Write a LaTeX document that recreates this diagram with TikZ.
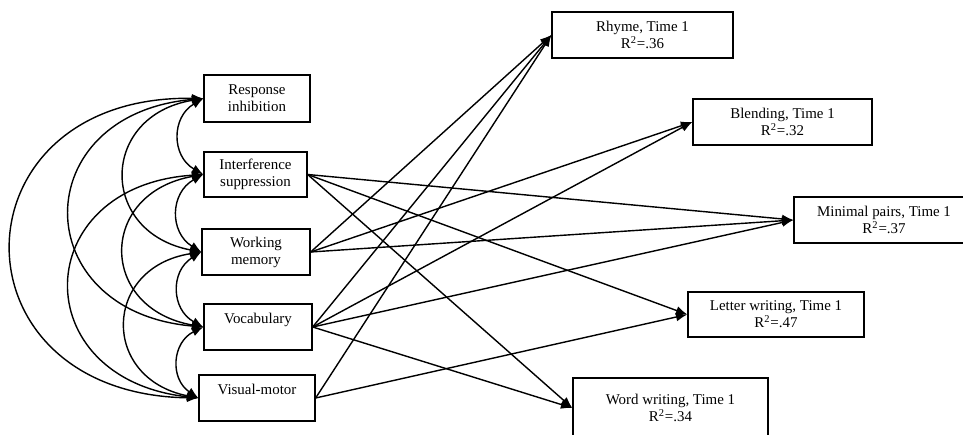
\documentclass[tikz,border=0pt]{standalone}
\usepackage{fontspec}
\setmainfont{Liberation Serif}
\usetikzlibrary{positioning, arrows.meta}

\begin{document}
\begin{tikzpicture}[x=0.02cm, y=-0.02cm]
    % Setup the style for the boxes
        \tikzset{box style/.style={draw,
                                   rectangle,
                                   line width=0.75pt,
                                   inner sep=0pt,
                                   align=center,
                                   minimum height=0.92cm,
                                   font=\fontsize{8.5}{9.7}\selectfont}}
        \useasboundingbox (0,0) rectangle (963,435);
        % Draw the predictors
        \node[box style, minimum width=2.12cm, minimum height=0.94cm] at (257, 98.5) (resp) {Response\\inhibition};
        \node[box style, minimum width=2.06cm, minimum height=0.9cm] at (255.5, 174.5) (interf) {Interference\\suppression};
        \node[box style, minimum width=2.16cm] at (256, 252) (wmem) {Working\\memory};
        \node[box style, minimum width=2.16cm] at (258, 327) (vocab) {Vocabulary\\\mbox{}};
        \node[box style, minimum width=2.32cm] at (257, 398) (vismot) {Visual-motor\\\mbox{}};
        % Draw the outcomes
        \node[box style, minimum width=3.62cm] at (642.5, 35) (rhyme) {Rhyme, Time 1\\R\textsuperscript{2}=.36};
        \node[box style, minimum width=3.58cm] at (782.5, 122) (blend) {Blending, Time 1\\R\textsuperscript{2}=.32};
        \node[box style, minimum width=3.6cm] at (884, 220) (minpair) {Minimal pairs, Time 1\\R\textsuperscript{2}=.37};
        \node[box style, minimum width=3.52cm, minimum height=0.9cm] at (776, 314.5) (letter) {Letter writing, Time 1\\R\textsuperscript{2}=.47};
        \node[box style, minimum width=3.9cm, minimum height=1.2cm] at (670.5, 408) (word) {Word writing, Time 1\\R\textsuperscript{2}=.34};
        % Connect the predictors with correlations
        \path[<->,
              >={Latex[length=6.5pt, width=5pt]},
              line width=0.8pt]
        (resp.west) edge[bend right=60, looseness=1.25] (interf.west)
        (interf.west) edge[bend right=60, looseness=1.25] (wmem.west)
        (wmem.west) edge[bend right=60, looseness=1.25] (vocab.west)
        (vocab.west) edge[bend right=60, looseness=1.25] (vismot.west)
        (resp.west) edge[bend right=80, looseness=1.75] (wmem.west)
        (interf.west) edge[bend right=80, looseness=1.8] (vocab.west)
        (wmem.west) edge[bend right=80, looseness=1.75] (vismot.west)
        (resp.west) edge[bend right=85, looseness=2] (vocab.west)
        (interf.west) edge[bend right=85, looseness=2] (vismot.west)
        (resp.west) edge[bend right=90, looseness=2.15] (vismot.west);
        % Connect the predictors to the outcomes
        \path[->,
              >={Latex[length=6.5pt, width=5pt]},
              line width=0.8pt]
        (interf.east) edge (minpair.west)
        (interf.east) edge (letter.west)
        (interf.east) edge (word.west)
        (wmem.east) edge (rhyme.west)
        (wmem.east) edge (blend.west)
        (wmem.east) edge (minpair.west)
        (vocab.east) edge (rhyme.west)
        (vocab.east) edge (blend.west)
        (vocab.east) edge (minpair.west)
        (vocab.east) edge (word.west)
        (vismot.east) edge (rhyme.west)
        (vismot.east) edge (letter.west);
\end{tikzpicture}
\end{document}
